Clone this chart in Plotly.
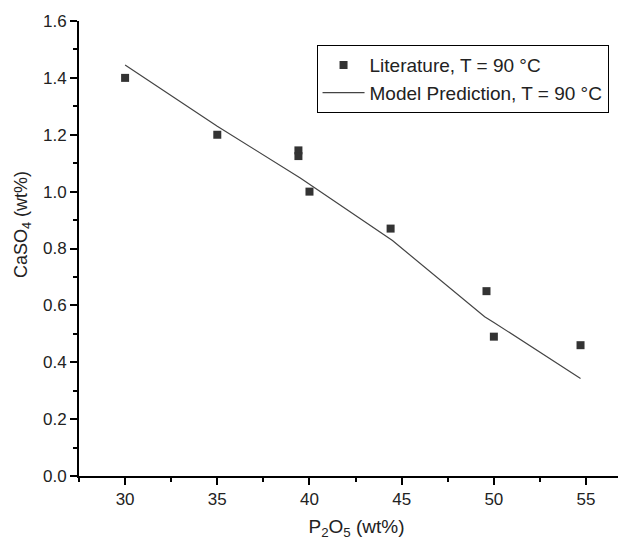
import plotly.graph_objects as go

# Literature data
lit_x = [30.0, 35.0, 39.4, 39.4, 40.0, 44.4, 49.6, 50.0, 54.7]
lit_y = [1.40, 1.20, 1.145, 1.125, 1.00, 0.87, 0.65, 0.49, 0.46]

# Model prediction
mod_x = [30.0, 35.0, 39.5, 40.0, 44.5, 49.5, 50.0, 54.7]
mod_y = [1.445, 1.23, 1.048, 1.026, 0.828, 0.56, 0.54, 0.343]

x_ticks = [30, 35, 40, 45, 50, 55]
y_ticks = [0.0, 0.2, 0.4, 0.6, 0.8, 1.0, 1.2, 1.4, 1.6]

FONT = "Arial, Liberation Sans, sans-serif"
TXT = "#222222"

fig = go.Figure()
fig.add_trace(go.Scatter(
    x=lit_x, y=lit_y, mode="markers",
    name="Literature, T = 90 °C",
    marker=dict(symbol="square", size=8, color="#333333"),
))
fig.add_trace(go.Scatter(
    x=mod_x, y=mod_y, mode="lines",
    name="Model Prediction, T = 90 °C",
    line=dict(color="#444444", width=1.2),
))

axis_common = dict(
    showline=True, linecolor="black", linewidth=2,
    showgrid=False, zeroline=False, automargin=False,
    ticks="outside", ticklen=7, tickwidth=1.5, tickcolor="black",
    tickfont=dict(family=FONT, size=17, color=TXT),
    mirror=False,
)

fig.update_layout(
    width=626, height=542,
    margin=dict(l=71, r=0, t=13, b=74),
    paper_bgcolor="white", plot_bgcolor="white",
    font=dict(family=FONT, color=TXT),
    xaxis=dict(
        range=[27.5, 57.6],
        tickvals=x_ticks, ticktext=[str(v) for v in x_ticks],
        minor=dict(dtick=2.5, tick0=27.5, ticks="outside", ticklen=4, tickcolor="black", tickwidth=1.5),
        title=dict(text="P<sub>2</sub>O<sub>5</sub> (wt%)", font=dict(family=FONT, size=19, color=TXT), standoff=11),
        **axis_common,
    ),
    yaxis=dict(
        range=[0, 1.6],
        tickvals=y_ticks, ticktext=[f"{v:.1f}" for v in y_ticks],
        minor=dict(dtick=0.1, tick0=0, ticks="outside", ticklen=4, tickcolor="black", tickwidth=1.5),
        **axis_common,
    ),
    annotations=[dict(
        text="CaSO<sub>4</sub> (wt%)", textangle=-90,
        xref="paper", yref="paper", x=-0.1027, y=0.5516,
        xanchor="center", yanchor="middle", showarrow=False,
        font=dict(family=FONT, size=18, color=TXT),
    )],
    legend=dict(
        x=0.428, y=0.947, xanchor="left", yanchor="top",
        bordercolor="black", borderwidth=1, bgcolor="white",
        font=dict(family=FONT, size=19, color=TXT),
        tracegroupgap=0, itemwidth=42,
    ),
    showlegend=True,
)

fig.write_html("out.html")
